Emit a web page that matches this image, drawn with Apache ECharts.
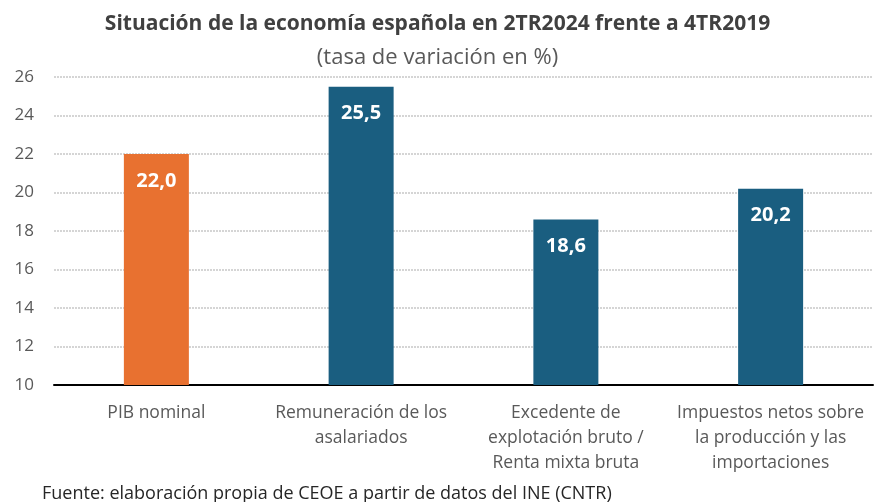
<!DOCTYPE html>
<html><head><meta charset="utf-8">
<script src="https://cdn.jsdelivr.net/npm/echarts@6/dist/echarts.min.js"></script>
<style>html,body{margin:0;padding:0;background:#fff}#c{width:875px;height:502px}</style>
</head><body><div id="c"></div>
<script>
const titleText = 'Situación de la economía española en 2TR2024 frente a 4TR2019';
const subtitleText = '(tasa de variación en %)';
const sourceText = 'Fuente: elaboración propia de CEOE a partir de datos del INE (CNTR)';
const categories = ['PIB nominal', 'Remuneración de los\nasalariados', 'Excedente de\nexplotación bruto /\nRenta mixta bruta', 'Impuestos netos sobre\nla producción y las\nimportaciones'];
const values = [22.0, 25.5, 18.6, 20.2];
const barColors = ['#E87130', '#1A5E80', '#1A5E80', '#1A5E80'];
const yTicks = { min: 10, max: 26, interval: 2 };

const font = '"Open Sans", sans-serif';
const chart = echarts.init(document.getElementById('c'));
chart.setOption({
  animation: false,
  title: [
    { text: titleText, left: 'center', top: 9, textStyle: { fontFamily: font, fontSize: 21, fontWeight: 'bold', color: '#404040', letterSpacing: 0.6 } },
    { text: subtitleText, left: 'center', top: 42, textStyle: { fontFamily: font, fontSize: 22, fontWeight: 'normal', color: '#595959' } },
    { text: sourceText, left: 37, top: 480, textStyle: { fontFamily: font, fontSize: 18, fontWeight: 'normal', color: '#262626' } }
  ],
  grid: { left: 54, right: 2, top: 77, bottom: 117, containLabel: false },
  xAxis: {
    type: 'category', data: categories,
    axisLine: { lineStyle: { color: '#000', width: 2 } },
    axisTick: { show: false },
    axisLabel: { fontFamily: font, fontSize: 17.5, color: '#595959', lineHeight: 25, margin: 16, interval: 0 }
  },
  yAxis: {
    type: 'value', min: yTicks.min, max: yTicks.max, interval: yTicks.interval,
    axisLine: { show: false }, axisTick: { show: false },
    axisLabel: { fontFamily: font, fontSize: 17, color: '#595959', margin: 20, align: 'right' },
    splitLine: { lineStyle: { color: '#c8c8c8', width: 1.5, type: [2, 1] } }
  },
  series: [{
    type: 'bar', barWidth: 65,
    data: values.map((v, i) => ({ value: v, itemStyle: { color: barColors[i] } })),
    label: {
      show: true, position: 'insideTop', distance: 17,
      formatter: p => p.value.toFixed(1).replace('.', ','),
      fontFamily: font, fontSize: 20, fontWeight: 'bold', color: '#fff'
    }
  }]
});
</script></body></html>
